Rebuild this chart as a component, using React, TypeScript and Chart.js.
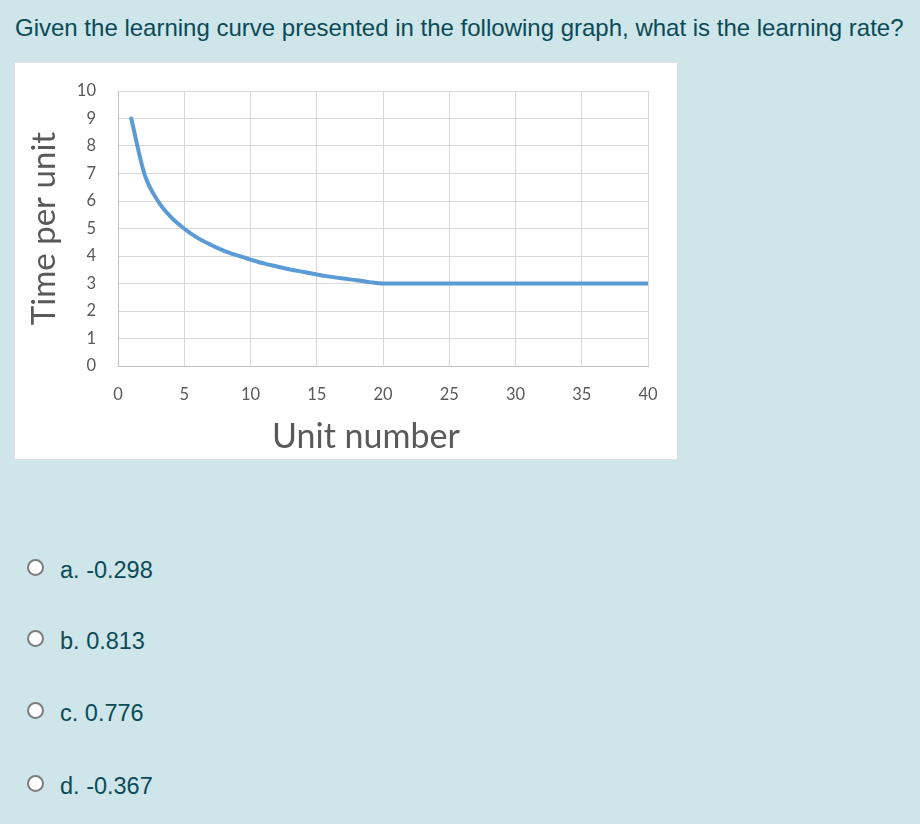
import React, { useEffect, useRef } from "react";
import { Chart, registerables } from "chart.js";

Chart.register(...registerables);

const questionText =
  "Given the learning curve presented in the following graph, what is the learning rate?";
const optionLabels = ["a. -0.298", "b. 0.813", "c. 0.776", "d. -0.367"];

const unitNumbers = [
  1, 2, 3, 4, 5, 6, 7, 8, 9, 10, 11, 12, 13, 14, 15, 16, 17, 18, 19, 20,
  21, 22, 23, 24, 25, 26, 27, 28, 29, 30, 31, 32, 33, 34, 35, 36, 37, 38, 39, 40,
];
const timePerUnit = [
  9.0, 6.98, 6.01, 5.41, 4.99, 4.66, 4.41, 4.19, 4.02, 3.87, 3.73, 3.62, 3.51, 3.42,
  3.33, 3.25, 3.18, 3.12, 3.05, 3.0, 3.0, 3.0, 3.0, 3.0, 3.0, 3.0, 3.0, 3.0, 3.0, 3.0,
  3.0, 3.0, 3.0, 3.0, 3.0, 3.0, 3.0, 3.0, 3.0, 3.0,
];
const xAxisTitle = "Unit number";
const yAxisTitle = "Time per unit";

const TEXT_COLOR = "#0b4a57";
const AXIS_TEXT = "#595959";

function LearningChart() {
  const ref = useRef<HTMLCanvasElement | null>(null);
  useEffect(() => {
    if (!ref.current) return;
    const chart = new Chart(ref.current, {
      type: "line",
      data: {
        datasets: [
          {
            data: unitNumbers.map((u, i) => ({ x: u, y: timePerUnit[i] })),
            borderColor: "#5b9bd5",
            borderWidth: 4,
            pointRadius: 0,
            borderCapStyle: "round",
            borderJoinStyle: "round",
            cubicInterpolationMode: "monotone",
            fill: false,
          },
        ],
      },
      options: {
        animation: false,
        responsive: false,
        maintainAspectRatio: false,
        devicePixelRatio: 1,
        layout: { padding: { top: 28, right: 29, left: 0, bottom: 0 } },
        plugins: { legend: { display: false }, tooltip: { enabled: false } },
        scales: {
          x: {
            type: "linear",
            min: 0,
            max: 40,
            ticks: {
              stepSize: 5,
              padding: 19,
              color: AXIS_TEXT,
              font: { family: "Lato", size: 16.5 },
            },
            grid: { color: "#d9d9d9", lineWidth: 1, drawTicks: false },
            border: { color: "#c4c4c4", width: 1 },
            title: {
              display: true,
              text: xAxisTitle + "\u00a0\u00a0\u00a0\u00a0",
              color: AXIS_TEXT,
              font: { family: "Lato", size: 34 },
              padding: { top: 0, bottom: 2 },
            },
            afterFit: (s: any) => {
              s.height = 93;
              s.paddingLeft = 0;
              s.paddingRight = 0;
            },
          },
          y: {
            type: "linear",
            min: 0,
            max: 10,
            ticks: {
              stepSize: 1,
              padding: 22,
              color: AXIS_TEXT,
              font: { family: "Lato", size: 16.5 },
            },
            grid: { color: "#d9d9d9", lineWidth: 1, drawTicks: false },
            border: { color: "#c4c4c4", width: 1 },
            title: {
              display: true,
              text: yAxisTitle,
              color: AXIS_TEXT,
              font: { family: "Lato", size: 33 },
              padding: { top: 10, bottom: 0 },
            },
            afterFit: (s: any) => {
              s.width = 103;
              s.paddingTop = 0;
              s.paddingBottom = 0;
            },
          },
        },
      },
    });
    return () => chart.destroy();
  }, []);
  return <canvas ref={ref} width={662} height={396} style={{ display: "block" }} />;
}

export default function App() {
  const optionCenters = [570, 641, 713, 786];
  return (
    <div
      style={{
        position: "absolute",
        left: 0,
        top: 0,
        width: 920,
        height: 824,
        background: "#cee5e9",
        fontFamily: "'Liberation Sans', Arial, sans-serif",
        color: TEXT_COLOR,
        overflow: "hidden",
      }}
    >
      <div
        style={{
          position: "absolute",
          left: 15,
          top: 14,
          fontSize: 24,
          lineHeight: "28px",
          whiteSpace: "nowrap",
        }}
      >
        {questionText}
      </div>
      <div
        style={{
          position: "absolute",
          left: 15,
          top: 63,
          width: 662,
          height: 396,
          background: "#ffffff",
          outline: "1px solid #dde3e4",
        }}
      >
        <LearningChart />
      </div>
      {optionLabels.map((label, i) => (
        <React.Fragment key={label}>
          <div
            style={{
              position: "absolute",
              left: 27,
              top: optionCenters[i] - 11,
              width: 17,
              height: 17,
              boxSizing: "border-box",
              border: "2px solid #7d7d7d",
              borderRadius: "50%",
              background: "#ffffff",
            }}
          />
          <div
            style={{
              position: "absolute",
              left: 60,
              top: optionCenters[i] - 14,
              fontSize: 23.5,
              lineHeight: "28px",
              whiteSpace: "nowrap",
            }}
          >
            {label}
          </div>
        </React.Fragment>
      ))}
    </div>
  );
}
